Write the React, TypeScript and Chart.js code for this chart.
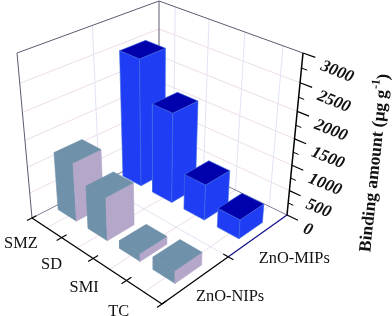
import React, { useEffect, useRef } from "react";
import { Chart, registerables } from "chart.js";

Chart.register(...registerables);

const categories = ["SMZ", "SD", "SMI", "TC"];
const seriesNames = ["ZnO-NIPs", "ZnO-MIPs"];
const nipValues = [1130, 825, 153, 240];
const mipValues = [2456, 1742, 698, 373];
const zTicks = [0, 500, 1000, 1500, 2000, 2500, 3000];
const zMinorTicks = [250, 750, 1250, 1750, 2250, 2750];
const zMax = 3000;

type V = [number, number];
// Box corners on screen: floor (A, B, C, D) and ceiling.
const floor = { a: [32, 218], b: [162, 304], c: [287, 215], d: [159, 153] };
const ceil = { a: [17, 53], b: [163, 117], c: [303, 53], d: [159, 1] };
const persp = (v: number, k: number) => (v * k) / (1 + v * (k - 1));
const quad = (q: any, u: number, w: number): V => {
  const f = (i: number) =>
    q.a[i] * (1 - u) * (1 - w) + q.b[i] * u * (1 - w) + q.c[i] * u * w + q.d[i] * (1 - u) * w;
  return [f(0), f(1)];
};
const project = (u: number, w: number, value: number) => {
  const tu = persp(u, 0.887);
  const tw = persp(w, 1.13);
  const tz = persp(value / zMax, 0.887);
  const p0 = quad(floor, tu, tw);
  const p1 = quad(ceil, tu, tw);
  return { x: p0[0] + (p1[0] - p0[0]) * tz, y: p0[1] + (p1[1] - p0[1]) * tz };
};

const line = (pts: any[], color: string, width: number) => ({
  type: "scatter",
  data: pts,
  showLine: true,
  fill: false,
  borderColor: color,
  borderWidth: width,
  pointRadius: 0,
  tension: 0,
  clip: false,
});
const face = (pts: any[], color: string, edge: string, width = 0.6) => ({
  type: "scatter",
  data: [...pts, pts[0]],
  showLine: true,
  fill: "shape",
  backgroundColor: color,
  borderColor: edge,
  borderWidth: width,
  pointRadius: 0,
  tension: 0,
  clip: false,
});

function buildDatasets() {
  const out: any[] = [];
  const gridH = "#eddcec";
  const gridV = "#e3e2f3";
  const frame = "#5c5a70";
  const uGrid = categories.map((_, i) => (i + 0.5) / categories.length);
  for (const z of zTicks.slice(1, -1)) {
    out.push(line([project(0, 0, z), project(0, 1, z), project(1, 1, z)], gridH, 1));
  }
  out.push(line([project(0, 0.5, 0), project(0, 0.5, zMax)], gridV, 1));
  for (const u of uGrid) {
    out.push(line([project(u, 1, 0), project(u, 1, zMax)], gridV, 1));
    out.push(line([project(u, 0, 0), project(u, 1, 0)], gridH, 1));
  }
  out.push(line([project(0, 0.5, 0), project(1, 0.5, 0)], gridV, 1));
  out.push(line([project(0, 0, zMax), project(0, 1, zMax), project(1, 1, zMax)], frame, 1));
  out.push(line([project(0, 1, 0), project(0, 1, zMax)], frame, 1));
  out.push(line([project(0, 0, 0), project(0, 0, zMax)], frame, 1));
  out.push(line([project(0, 0, 0), project(0, 1, 0), project(1, 1, 0)], "#70708a", 0.9));

  const bar = (c: number, w0: number, w1: number, value: number, left: string, right: string, top: string, edges: string[]) => {
    const u0 = (c + 0.15) / categories.length;
    const u1 = (c + 0.77) / categories.length;
    out.push(face([project(u0, w0, 0), project(u1, w0, 0), project(u1, w0, value), project(u0, w0, value)], left, edges[0]));
    out.push(face([project(u1, w0, 0), project(u1, w1, 0), project(u1, w1, value), project(u1, w0, value)], right, edges[1]));
    out.push(face([project(u0, w0, value), project(u1, w0, value), project(u1, w1, value), project(u0, w1, value)], top, edges[2]));
  };
  mipValues.forEach((v, c) => bar(c, 0.655, 0.855, v, "#1f3df4", "#1f3df4", "#0000ac", ["#3f6ce0", "#3f6ce0", "#3f6ce0"]));
  nipValues.forEach((v, c) => bar(c, 0.155, 0.355, v, "#7091aa", "#b5a7c9", "#7091aa", ["#7091aa", "#b5a7c9", "#7091aa"]));

  out.push(line([project(0, 0, 0), project(1, 0, 0)], "#000", 1.3));
  out.push(line([project(1, 0, 0), project(1, 0.5, 0)], "#000", 1.3));
  out.push(line([project(1, 0.5, 0), project(1, 1, 0)], "#12128c", 1.3));
  out.push(line([project(1, 1, 0), project(1, 1, zMax)], "#000", 1.5));
  categories.forEach((_, i) => {
    const u = (i + 1) / categories.length;
    if (i < categories.length - 1) out.push(line([project(u, -0.035, 0), project(u, 0.035, 0)], "#000", 1.1));
  });
  out.push(line([project(0, -0.035, 0), project(0, 0.03, 0)], "#000", 1.1));
  out.push(line([project(1, -0.035, 0), project(1, 0.03, 0)], "#000", 1.1));
  out.push(line([project(0.965, 0.5, 0), project(1.035, 0.5, 0)], "#000", 1.1));
  for (const z of zTicks) out.push(line([project(1, 1, z), project(1.075, 1, z)], "#000", 1.2));
  for (const z of zMinorTicks) out.push(line([project(1, 1, z), project(1.035, 1, z)], "#000", 1));
  return out.reverse();
}

const serif = '"Liberation Serif", "Times New Roman", serif';
const labelPlugin = {
  id: "labels3d",
  afterDraw(chart: any) {
    const ctx = chart.ctx;
    const xs = chart.scales.x;
    const ys = chart.scales.y;
    const px = (p: { x: number; y: number }): V => [xs.getPixelForValue(p.x), ys.getPixelForValue(p.y)];
    ctx.save();
    ctx.fillStyle = "#111";
    ctx.textBaseline = "middle";
    // Category labels sit outside the floor's front-left edge.
    ctx.font = `16.4px ${serif}`;
    ctx.textAlign = "center";
    categories.forEach((name, i) => {
      const [x, y] = px(project((i + 0.5) / categories.length, -0.175, 0));
      ctx.fillText(name, x, y + 2);
    });
    ctx.textAlign = "left";
    seriesNames.forEach((name, i) => {
      const [x, y] = px(project(1.115, (i + 0.5) / seriesNames.length - 0.04, 0));
      ctx.fillText(name, x - 12, y + (i === 0 ? 3 : 11));
    });
    // Value axis numbers
    ctx.font = `italic bold 17px ${serif}`;
    for (const z of zTicks) {
      const [x, y] = px(project(1.075, 1, z));
      ctx.save();
      ctx.translate(x + 6, y + 8);
      ctx.rotate((22 * Math.PI) / 180);
      ctx.fillText(String(z), 0, 0);
      ctx.restore();
    }
    // Axis title with superscript
    ctx.save();
    ctx.translate(375, 163);
    ctx.rotate((-84 * Math.PI) / 180);
    const main = "Binding amount (\u03bcg g";
    const sup = "-1";
    const end = ")";
    const big = `bold 17.5px ${serif}`;
    const small = `bold 12px ${serif}`;
    ctx.font = big;
    const w1 = ctx.measureText(main).width;
    const w3 = ctx.measureText(end).width;
    ctx.font = small;
    const w2 = ctx.measureText(sup).width;
    let cx = -(w1 + w2 + w3) / 2;
    ctx.font = big;
    ctx.fillText(main, cx, 0);
    cx += w1;
    ctx.font = small;
    ctx.fillText(sup, cx, -7);
    cx += w2;
    ctx.font = big;
    ctx.fillText(end, cx, 0);
    ctx.restore();
    ctx.restore();
  },
};

export default function App() {
  const ref = useRef<HTMLCanvasElement | null>(null);
  useEffect(() => {
    if (!ref.current) return;
    const chart = new Chart(ref.current, {
      type: "scatter",
      data: { datasets: buildDatasets() },
      options: {
        animation: false,
        responsive: false,
        layout: { padding: 0 },
        plugins: { legend: { display: false }, tooltip: { enabled: false } },
        scales: {
          x: { type: "linear", min: 0, max: 392, display: false },
          y: { type: "linear", min: 0, max: 316, reverse: true, display: false },
        },
      },
      plugins: [labelPlugin],
    } as any);
    return () => chart.destroy();
  }, []);
  return (
    <div style={{ position: "absolute", left: 0, top: 0, width: 392, height: 316 }}>
      <canvas ref={ref} width={392} height={316} style={{ display: "block" }} />
    </div>
  );
}
